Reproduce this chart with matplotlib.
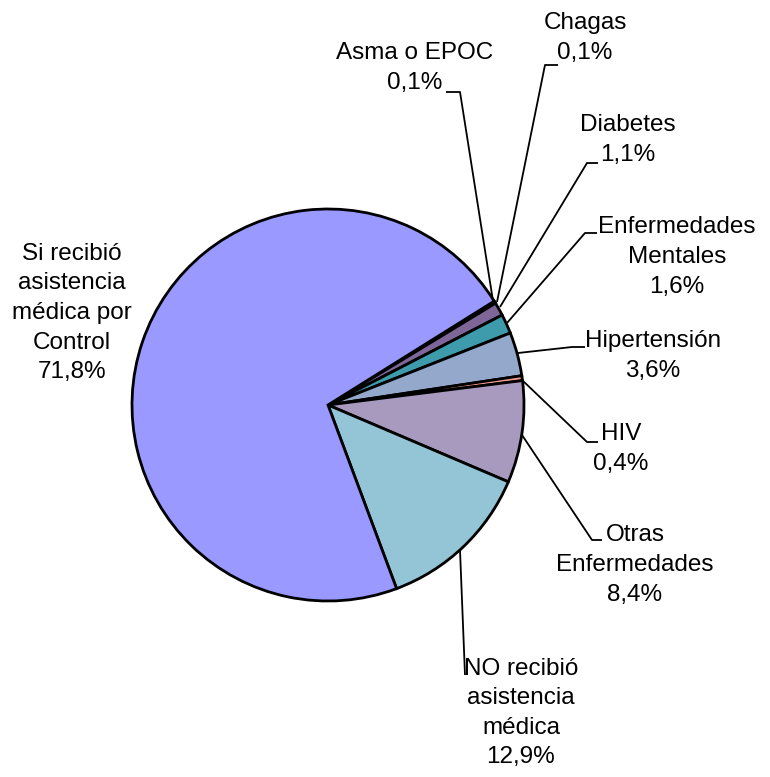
import matplotlib
matplotlib.use("Agg")
import matplotlib.pyplot as plt
from matplotlib import font_manager

categories = ["Asma o EPOC", "Chagas", "Diabetes", "Enfermedades\nMentales",
              "Hipertensión", "HIV", "Otras\nEnfermedades",
              "NO recibió\nasistencia\nmédica", "Si recibió\nasistencia\nmédica por\nControl"]
values = [0.1, 0.1, 1.1, 1.6, 3.6, 0.4, 8.4, 12.9, 71.8]
pct_labels = ["0,1%", "0,1%", "1,1%", "1,6%", "3,6%", "0,4%", "8,4%", "12,9%", "71,8%"]
colors = ["#1c1c4a", "#4b3470", "#7f6699", "#3d9bab", "#94a8cc", "#f09a8c",
          "#a899bf", "#93c5d6", "#9999ff"]

# font choice
avail = {f.name for f in font_manager.fontManager.ttflist}
fam = "Liberation Sans Narrow" if "Liberation Sans Narrow" in avail else "Liberation Sans"
fsize = 20 if fam == "Liberation Sans Narrow" else 17.5

W, H = 770, 777
cx, cy, R = 328, 405, 196

fig = plt.figure(figsize=(W / 100, H / 100), dpi=100)
ax = fig.add_axes([0, 0, 1, 1])

ax.pie(values, colors=colors, startangle=32, counterclock=False, radius=1.0,
       wedgeprops=dict(edgecolor="black", linewidth=2.0))

ax.set_xlim(-cx / R, (W - cx) / R)
ax.set_ylim((cy - H) / R, cy / R)
ax.set_aspect("equal")
ax.axis("off")


def p(x, y):
    return ((x - cx) / R, (cy - y) / R)


# label centers (pixels) and leader line points (pixels)
label_pos = [(415, 68), (585, 38), (628, 140), (677, 257), (653, 356),
             (621, 449), (635, 565), (521, 713), (72, 313)]
leaders = [
    [(493, 301), (460, 92), (446, 92)],
    [(497, 302), (545, 65), (558, 65)],
    [(500, 307), (587, 163), (598, 163)],
    [(507, 323), (585, 233), (597, 233)],
    [(518, 353), (572, 347), (585, 347)],
    [(522, 380), (587, 442), (598, 442)],
    [(522, 435), (592, 540), (602, 540)],
    [(460, 550), (465, 675)],
    None,
]

for cat, pl, pos, ld in zip(categories, pct_labels, label_pos, leaders):
    x, y = p(*pos)
    ax.text(x, y, cat + "\n" + pl, ha="center", va="center", fontsize=fsize,
            family=[fam, "DejaVu Sans"], linespacing=1.45, color="black")
    if ld is not None:
        pts = [p(*q) for q in ld]
        ax.plot([q[0] for q in pts], [q[1] for q in pts], color="black", lw=1.3,
                solid_capstyle="butt", clip_on=False)

fig.savefig("out.png", dpi=100, facecolor="white")
